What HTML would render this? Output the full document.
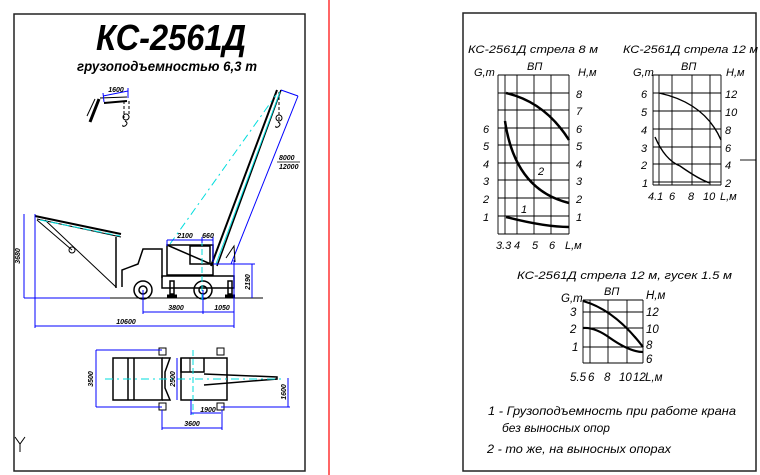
<!DOCTYPE html>
<html><head><meta charset="utf-8"><style>
html,body{margin:0;padding:0;background:#fff;}
svg{display:block;}
text{font-family:"Liberation Sans",sans-serif;font-style:italic;}
.b{font-weight:bold;}
</style></head><body>
<svg width="760" height="475" viewBox="0 0 760 475" xmlns="http://www.w3.org/2000/svg">
<rect x="0" y="0" width="760" height="475" fill="#fff"/>
<rect x="14" y="14" width="291" height="457" fill="none" stroke="#222" stroke-width="1.5"/>
<line x1="329" y1="0" x2="329" y2="475" stroke="#f00" stroke-width="1.2"/>
<rect x="463" y="13" width="293" height="458" fill="none" stroke="#222" stroke-width="1.5"/>

<text class="b" x="171" y="50" font-size="36" text-anchor="middle" textLength="150" lengthAdjust="spacingAndGlyphs">КС-2561Д</text>
<text class="b" x="167" y="71" font-size="13.5" text-anchor="middle" textLength="180" lengthAdjust="spacingAndGlyphs">грузоподъемностью 6,3 т</text>

<g stroke="#000" fill="none">
<line x1="99" y1="99" x2="90" y2="122" stroke-width="3"/>
<line x1="95" y1="99" x2="87" y2="116" stroke-width="1"/>
<line x1="104" y1="103" x2="127" y2="101" stroke-width="2"/>
<line x1="100" y1="98" x2="127" y2="97" stroke-width="1"/>
<line x1="124" y1="101" x2="124" y2="118" stroke-dasharray="3,2"/>
<line x1="129" y1="101" x2="129" y2="118" stroke-dasharray="3,2"/>
<circle cx="126" cy="117" r="3"/>
<path d="M125,121 q4,2 0,5 q-3,1 -2,-1"/>
</g>
<g stroke="#00f" fill="none" stroke-width="1">
<line x1="103" y1="96" x2="128" y2="91"/><line x1="103" y1="93" x2="104" y2="102"/><line x1="128" y1="88" x2="128" y2="98"/>
</g>
<text class="b" x="116" y="92" font-size="7" text-anchor="middle">1600</text>

<g stroke="#000" fill="none">
<line x1="211" y1="266" x2="277" y2="90" stroke-width="2"/>
<line x1="217" y1="266" x2="281" y2="90" stroke-width="1.5"/>
<line x1="279" y1="92" x2="279" y2="120" stroke-dasharray="3,2"/>
<circle cx="279" cy="118" r="3"/>
<path d="M278,122 q4,2 0,5 q-3,1 -2,-1"/>
</g>
<line x1="216" y1="264" x2="280" y2="92" stroke="#0dd" stroke-width="1"/>
<line x1="170" y1="244" x2="276" y2="95" stroke="#0dd" stroke-width="1" stroke-dasharray="8,4,2,4"/>
<line x1="298" y1="96" x2="231" y2="264" stroke="#00f"/>
<line x1="281" y1="90" x2="298" y2="96" stroke="#00f"/>
<text class="b" x="279" y="160" font-size="7">8000</text>
<line x1="277" y1="162" x2="300" y2="162" stroke="#000" stroke-width="0.8"/>
<text class="b" x="279" y="169" font-size="7">12000</text>

<g stroke="#000" fill="none">
<line x1="35" y1="216" x2="121" y2="234" stroke-width="2"/>
<line x1="37" y1="219" x2="121" y2="237" stroke-width="1"/>
<line x1="37" y1="220" x2="72" y2="250" stroke-width="1"/>
<line x1="45" y1="220" x2="116" y2="287" stroke-width="1"/>
<circle cx="72" cy="250" r="3"/>
<line x1="116" y1="237" x2="116" y2="288" stroke-width="1.5"/>
</g>
<line x1="40" y1="220" x2="120" y2="236" stroke="#0dd" stroke-dasharray="8,3"/>

<g stroke="#000" fill="none" stroke-width="1.5">
<path d="M122,287 L122,270 L138,264 L143,249 L162,249 L162,278"/>
<rect x="162" y="276" width="72" height="12"/>
<rect x="167" y="245" width="46" height="30"/>
<rect x="190" y="246" width="20" height="18"/>
<line x1="167" y1="245" x2="213" y2="265"/>
<circle cx="143" cy="290" r="9"/><circle cx="143" cy="290" r="4"/>
<circle cx="203" cy="290" r="9"/><circle cx="203" cy="290" r="4"/>
<rect x="170" y="281" width="4" height="13"/><rect x="228" y="281" width="4" height="13"/>
<line x1="167" y1="296" x2="177" y2="296" stroke-width="3"/>
<line x1="225" y1="296" x2="235" y2="296" stroke-width="3"/>
<path d="M226,258 L234,246 L235,262" stroke-width="1"/>
</g>
<line x1="110" y1="298" x2="263" y2="298" stroke="#000"/>
<line x1="202" y1="240" x2="202" y2="300" stroke="#0dd" stroke-dasharray="6,3"/>
<g stroke="#00f" fill="none" stroke-width="1">
<line x1="24" y1="214" x2="24" y2="298"/><line x1="24" y1="298" x2="110" y2="298"/>
<line x1="35" y1="214" x2="35" y2="328"/><line x1="35" y1="326" x2="234" y2="326"/>
<line x1="234" y1="260" x2="234" y2="328"/>
<line x1="143" y1="290" x2="143" y2="314"/><line x1="143" y1="312" x2="234" y2="312"/>
<line x1="203" y1="290" x2="203" y2="314"/>
<line x1="252" y1="264" x2="252" y2="298"/><line x1="213" y1="264" x2="255" y2="264"/>
<line x1="167" y1="240" x2="213" y2="240"/><line x1="167" y1="240" x2="167" y2="246"/><line x1="213" y1="237" x2="213" y2="262"/>
<line x1="202" y1="237" x2="202" y2="243"/>
</g>
<g class="b" font-size="7">
<text x="20" y="256" transform="rotate(-90 20 256)" text-anchor="middle">3680</text>
<text x="126" y="324" text-anchor="middle">10600</text>
<text x="176" y="310" text-anchor="middle">3800</text>
<text x="222" y="310" text-anchor="middle">1050</text>
<text x="250" y="282" transform="rotate(-90 250 282)" text-anchor="middle">2190</text>
<text x="185" y="238" text-anchor="middle">2100</text>
<text x="208" y="238" text-anchor="middle">660</text>
</g>

<g stroke="#000" fill="none" stroke-width="1.5">
<rect x="113" y="358" width="49" height="42"/>
<line x1="128" y1="358" x2="128" y2="400"/><line x1="134" y1="358" x2="134" y2="400"/>
<path d="M162,358 L170,358 L165,372 L165,388 L170,400 L162,400"/>
<rect x="181" y="358" width="46" height="42"/>
<path d="M181,358 L181,372 L204,372 L204,358"/>
<line x1="190" y1="358" x2="190" y2="372" stroke-width="1"/>
<path d="M204,374 L277,377 L277,379 L204,385"/>
<rect x="159" y="348" width="7" height="7" stroke-width="1"/><rect x="217" y="348" width="7" height="7" stroke-width="1"/>
<rect x="159" y="403" width="7" height="7" stroke-width="1"/><rect x="217" y="403" width="7" height="7" stroke-width="1"/>
</g>
<line x1="105" y1="379" x2="285" y2="379" stroke="#0dd" stroke-dasharray="8,4,2,4"/>
<line x1="193" y1="350" x2="193" y2="415" stroke="#0dd" stroke-dasharray="6,3"/>
<g stroke="#00f" fill="none">
<line x1="96" y1="350" x2="96" y2="407"/><line x1="96" y1="350" x2="162" y2="350"/><line x1="96" y1="407" x2="162" y2="407"/>
<line x1="177" y1="358" x2="177" y2="400"/>
<line x1="288" y1="378" x2="288" y2="407"/><line x1="221" y1="407" x2="290" y2="407"/>
<line x1="162" y1="410" x2="162" y2="430"/><line x1="222" y1="410" x2="222" y2="430"/><line x1="162" y1="428" x2="222" y2="428"/>
<line x1="191" y1="400" x2="191" y2="415"/><line x1="191" y1="413" x2="221" y2="413"/>
</g>
<g class="b" font-size="7">
<text x="93" y="379" transform="rotate(-90 93 379)" text-anchor="middle">3500</text>
<text x="175" y="379" transform="rotate(-90 175 379)" text-anchor="middle">2500</text>
<text x="286" y="392" transform="rotate(-90 286 392)" text-anchor="middle">1600</text>
<text x="192" y="426" text-anchor="middle">3600</text>
<text x="208" y="412" text-anchor="middle">1900</text>
</g>
<path d="M15,437 L20,444 L25,437 M20,444 L20,452" stroke="#000" fill="none"/>

<text x="468" y="53" font-size="11" textLength="130" lengthAdjust="spacingAndGlyphs">КС-2561Д стрела 8 м</text>
<text x="474" y="76" font-size="11">G,т</text>
<text x="527" y="70" font-size="11">ВП</text>
<text x="578" y="76" font-size="11">H,м</text>
<g stroke="#000" stroke-width="0.9">
<line x1="498" y1="75" x2="498" y2="234"/><line x1="505" y1="75" x2="505" y2="234"/><line x1="517" y1="75" x2="517" y2="234"/><line x1="534" y1="75" x2="534" y2="234"/><line x1="551" y1="75" x2="551" y2="234"/><line x1="569" y1="75" x2="569" y2="234"/>
<line x1="498" y1="75" x2="569" y2="75"/><line x1="498" y1="93" x2="569" y2="93"/><line x1="498" y1="110" x2="569" y2="110"/><line x1="498" y1="128" x2="569" y2="128"/><line x1="498" y1="145" x2="569" y2="145"/><line x1="498" y1="163" x2="569" y2="163"/><line x1="498" y1="180" x2="569" y2="180"/><line x1="498" y1="198" x2="569" y2="198"/><line x1="498" y1="216" x2="569" y2="216"/><line x1="498" y1="234" x2="569" y2="234"/>
</g>
<g stroke="#000" fill="none" stroke-width="2.5">
<path d="M506,93 Q545,102 569,140"/>
<path d="M505,121 Q515,190 569,203"/>
<path d="M506,217 Q545,227 569,227"/>
</g>
<g font-size="11">
<text x="483" y="133">6</text><text x="483" y="150">5</text><text x="483" y="168">4</text><text x="483" y="185">3</text><text x="483" y="203">2</text><text x="483" y="221">1</text>
<text x="576" y="98">8</text><text x="576" y="115">7</text><text x="576" y="133">6</text><text x="576" y="150">5</text><text x="576" y="168">4</text><text x="576" y="185">3</text><text x="576" y="203">2</text><text x="576" y="221">1</text>
<text x="538" y="175">2</text><text x="521" y="213">1</text>
<text x="496" y="249">3.3</text><text x="514" y="249">4</text><text x="532" y="249">5</text><text x="549" y="249">6</text><text x="565" y="249">L,м</text>
</g>

<text x="623" y="53" font-size="11" textLength="135" lengthAdjust="spacingAndGlyphs">КС-2561Д стрела 12 м</text>
<text x="633" y="76" font-size="11">G,т</text>
<text x="681" y="70" font-size="11">ВП</text>
<text x="726" y="76" font-size="11">H,м</text>
<g stroke="#000" stroke-width="0.9">
<line x1="653" y1="75" x2="653" y2="185"/><line x1="659" y1="75" x2="659" y2="185"/><line x1="672" y1="75" x2="672" y2="185"/><line x1="692" y1="75" x2="692" y2="185"/><line x1="710" y1="75" x2="710" y2="185"/><line x1="721" y1="75" x2="721" y2="185"/>
<line x1="653" y1="75" x2="721" y2="75"/><line x1="653" y1="93" x2="721" y2="93"/><line x1="653" y1="111" x2="721" y2="111"/><line x1="653" y1="129" x2="721" y2="129"/><line x1="653" y1="147" x2="721" y2="147"/><line x1="653" y1="164" x2="721" y2="164"/><line x1="653" y1="182" x2="721" y2="182"/><line x1="653" y1="185" x2="721" y2="185"/>
<line x1="740" y1="160" x2="756" y2="160"/>
</g>
<g stroke="#000" fill="none" stroke-width="1.4">
<path d="M659,93 Q705,103 721,140"/>
<path d="M655,137 Q665,160 680,166 Q700,180 710,183"/>
</g>
<g font-size="11">
<text x="641" y="98">6</text><text x="641" y="116">5</text><text x="641" y="134">4</text><text x="641" y="152">3</text><text x="641" y="169">2</text><text x="642" y="187">1</text>
<text x="725" y="98">12</text><text x="725" y="116">10</text><text x="725" y="134">8</text><text x="725" y="152">6</text><text x="725" y="169">4</text><text x="725" y="187">2</text>
<text x="648" y="200">4.1</text><text x="669" y="200">6</text><text x="688" y="200">8</text><text x="703" y="200">10</text><text x="720" y="200">L,м</text>
</g>

<text x="517" y="279" font-size="11" textLength="215" lengthAdjust="spacingAndGlyphs">КС-2561Д стрела 12 м, гусек 1.5 м</text>
<text x="561" y="302" font-size="11.5">G,т</text>
<text x="604" y="295" font-size="11">ВП</text>
<text x="646" y="299" font-size="11.5">H,м</text>
<g stroke="#000" stroke-width="0.9">
<line x1="583" y1="300" x2="583" y2="363"/><line x1="590" y1="300" x2="590" y2="363"/><line x1="608" y1="300" x2="608" y2="363"/><line x1="627" y1="300" x2="627" y2="363"/><line x1="643" y1="300" x2="643" y2="363"/>
<line x1="583" y1="300" x2="643" y2="300"/><line x1="583" y1="312" x2="643" y2="312"/><line x1="583" y1="328" x2="643" y2="328"/><line x1="583" y1="347" x2="643" y2="347"/><line x1="583" y1="363" x2="643" y2="363"/>
</g>
<g stroke="#000" fill="none" stroke-width="2.2">
<path d="M583,301 Q615,310 643,347"/>
<path d="M583,328 Q595,327 610,338 Q630,352 643,352"/>
</g>
<g font-size="11.5">
<text x="570" y="316">3</text><text x="570" y="333">2</text><text x="572" y="351">1</text>
<text x="646" y="316">12</text><text x="646" y="333">10</text><text x="646" y="349">8</text><text x="646" y="363">6</text>
<text x="570" y="381">5.5</text><text x="588" y="381">6</text><text x="604" y="381">8</text><text x="619" y="381">10</text><text x="633" y="381">12</text><text x="645" y="381">L,м</text>
</g>
<g font-size="12">
<text x="488" y="415" textLength="248" lengthAdjust="spacingAndGlyphs">1 - Грузоподъемность при работе крана</text>
<text x="502" y="432">без выносных опор</text>
<text x="487" y="453" textLength="184" lengthAdjust="spacingAndGlyphs">2 - то же, на выносных опорах</text>
</g>
</svg>
</body></html>
